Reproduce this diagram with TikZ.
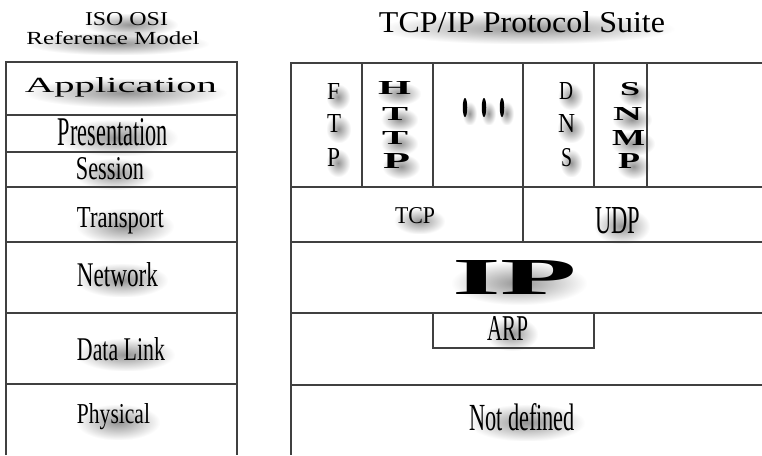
\documentclass[tikz,border=0pt]{standalone}
\usepackage{fontspec}
\setmainfont{Liberation Serif}
\usetikzlibrary{shapes.geometric,fadings,backgrounds}
\tikzfading[name=blobfade, inner color=transparent!0, outer color=transparent!100]
\newcommand{\fitbox}[3]{\resizebox{#1pt}{#2pt}{#3}}
\tikzset{
  lbl/.style={inner sep=0pt, outer sep=0pt, anchor=base, text=black},
  grid/.style={line width=1.5pt, draw=black!75},
  dotbar/.style={fill=black, draw=none, ellipse, minimum width=4.5pt, minimum height=19pt, inner sep=0pt},
  softshadow/.style={fill=black, fill opacity=0.42, draw=none, path fading=blobfade}
}
\begin{document}
\begin{tikzpicture}[x=1pt, y=-1pt]
\useasboundingbox (0,0) rectangle (762,455);

% ---------- left table (ISO OSI) ----------
\draw[grid] (6,455) -- (6,62) -- (237,62) -- (237,455);
\foreach \yy in {115,152,187,242,313,384} \draw[grid] (6,\yy) -- (237,\yy);

% ---------- right table (TCP/IP) ----------
\draw[grid] (762,63) -- (291,63) -- (291,455);
\foreach \yy in {187,242,313,385} \draw[grid] (291,\yy) -- (762,\yy);
\foreach \xx in {362,433,523,594,647} \draw[grid] (\xx,63) -- (\xx,187);
\draw[grid] (523,187) -- (523,242);
\draw[grid] (433,313) -- (433,348) -- (594,348) -- (594,313);

% ---------- titles ----------
\node[lbl] (iso)   at (126.5,25) {\fitbox{83}{13}{ISO OSI}};
\node[lbl] (refm)  at (113,44)   {\fitbox{173}{13}{Reference Model}};
\node[lbl] (title) at (522,33)   {\fitbox{286}{21}{TCP/IP Protocol Suite}};

% ---------- OSI layers ----------
\node[lbl] (app)   at (121,92)    {\fitbox{192}{15}{Application}};
\node[lbl] (pres)  at (113,145)   {\fitbox{110}{27}{Presentation}};
\node[lbl] (sess)  at (110,179)   {\fitbox{68}{22}{Session}};
\node[lbl] (trans) at (120.5,227) {\fitbox{87}{20}{Transport}};
\node[lbl] (net)   at (117.5,286) {\fitbox{81}{24}{Network}};
\node[lbl] (dl)    at (121,360)   {\fitbox{88}{23}{Data Link}};
\node[lbl] (phys)  at (113.5,423) {\fitbox{73}{20}{Physical}};

% ---------- application protocols ----------
\node[lbl] (ftp1) at (333.5,99)  {\fitbox{13}{16}{F}};
\node[lbl] (ftp2) at (334,132)   {\fitbox{14}{18}{T}};
\node[lbl] (ftp3) at (333.5,166) {\fitbox{13}{18}{P}};

\node[lbl] (http1) at (394.5,94)  {\fitbox{33}{13}{\bfseries H}};
\node[lbl] (http2) at (395,120)   {\fitbox{26}{13}{\bfseries T}};
\node[lbl] (http3) at (395,144)   {\fitbox{26}{13}{\bfseries T}};
\node[lbl] (http4) at (396.5,168) {\fitbox{27}{15}{\bfseries P}};

\node[dotbar] (d1) at (465,107.5) {};
\node[dotbar] (d2) at (484,107.5) {};
\node[dotbar] (d3) at (502,107.5) {};

\node[lbl] (dns1) at (566,99)    {\fitbox{14}{17}{D}};
\node[lbl] (dns2) at (566.5,132) {\fitbox{17}{18}{N}};
\node[lbl] (dns3) at (566.5,166) {\fitbox{11}{18}{S}};

\node[lbl] (snmp1) at (630,95)    {\fitbox{20}{13}{\bfseries S}};
\node[lbl] (snmp2) at (627.5,120) {\fitbox{29}{13}{\bfseries N}};
\node[lbl] (snmp3) at (628.5,145) {\fitbox{33}{15}{\bfseries M}};
\node[lbl] (snmp4) at (629,168)   {\fitbox{22}{15}{\bfseries P}};

% ---------- lower layers ----------
\node[lbl] (tcp) at (415,223)   {\fitbox{40}{16}{TCP}};
\node[lbl] (udp) at (617.5,233) {\fitbox{45}{26}{UDP}};
\node[lbl] (ip)  at (514.5,294) {\fitbox{125}{34}{\bfseries IP}};
\node[lbl] (arp) at (507.5,340) {\fitbox{41}{24}{ARP}};
\node[lbl] (nd)  at (522,430)   {\fitbox{106}{27}{Not defined}};

% ---------- soft drop shadows behind the texts ----------
\begin{pgfonlayer}{background}
\foreach \n in {iso,refm,title,app,pres,sess,trans,net,dl,phys,
                ftp1,ftp2,ftp3,http1,http2,http3,http4,d1,d2,d3,
                dns1,dns2,dns3,snmp1,snmp2,snmp3,snmp4,tcp,udp,ip,arp,nd}
  \path[softshadow] ([shift={(-1pt,-11pt)}]\n.south west) rectangle ([shift={(10pt,-1pt)}]\n.north east);
\end{pgfonlayer}
\end{tikzpicture}
\end{document}
